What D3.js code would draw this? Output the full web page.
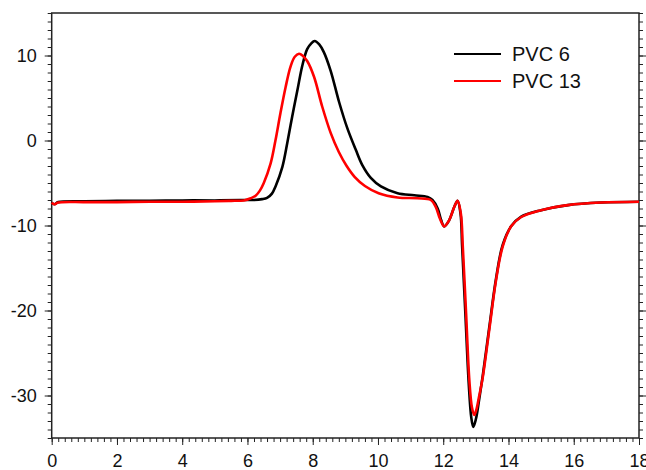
<!DOCTYPE html>
<html>
<head>
<meta charset="utf-8">
<script src="https://cdn.jsdelivr.net/npm/d3@7"></script>
<style>
  html, body { margin: 0; padding: 0; background: #fff; }
  svg { display: block; font-family: "Liberation Sans", Arial, Helvetica, sans-serif; }
  .axis path, .axis line { stroke: #222; }
  .axis text { fill: #111; font-size: 18px; }
  .legend text { font-size: 20px; fill: #111; }
</style>
</head>
<body>
<svg id="chart" width="646" height="470"></svg>
<script>
// ------------ DATA -----------------

const pvc6Time = [0, 0.08, 0.2, 1, 2, 3, 4, 5, 5.8, 6.2, 6.45, 6.6, 6.75, 6.86, 7.07, 7.22, 7.37, 7.53, 7.68, 7.83, 7.95, 8.06, 8.2, 8.34, 8.55, 8.81, 9.06, 9.32, 9.52, 9.78, 10.09, 10.6, 11.11, 11.52, 11.67, 11.83, 11.93, 12.03, 12.18, 12.34, 12.44, 12.53, 12.58, 12.68, 12.78, 12.86, 12.92, 13.0, 13.1, 13.21, 13.41, 13.62, 13.82, 14.08, 14.39, 15.0, 15.82, 16.84, 18];
const pvc6Value = [-7.3, -7.5, -7.25, -7.15, -7.1, -7.1, -7.05, -7.05, -7.0, -7.0, -6.9, -6.75, -6.25, -5.4, -3.1, -0.3, 2.8, 5.9, 8.8, 10.75, 11.4, 11.7, 11.3, 10.4, 8.2, 4.5, 1.45, -1.1, -2.9, -4.4, -5.4, -6.2, -6.45, -6.65, -7.0, -8.0, -9.3, -10.1, -9.4, -7.8, -7.1, -8.6, -12.5, -20.5, -28.5, -32.6, -33.7, -32.8, -30.5, -27.7, -22.0, -16.2, -12.3, -10.1, -8.96, -8.2, -7.6, -7.3, -7.2];

const pvc13Time = [0, 0.08, 0.2, 1, 2, 3, 4, 5, 5.5, 5.89, 6.1, 6.25, 6.38, 6.5, 6.71, 6.86, 7.01, 7.17, 7.32, 7.45, 7.58, 7.7, 7.83, 8.04, 8.29, 8.55, 8.8, 9.04, 9.29, 9.6, 10.02, 10.6, 11.21, 11.62, 11.77, 11.9, 12.03, 12.18, 12.34, 12.44, 12.54, 12.6, 12.7, 12.8, 12.88, 12.95, 13.02, 13.1, 13.21, 13.41, 13.62, 13.82, 14.08, 14.39, 15.0, 15.82, 16.84, 18];
const pvc13Value = [-7.3, -7.5, -7.3, -7.25, -7.25, -7.2, -7.2, -7.15, -7.1, -7.05, -6.8, -6.5, -5.9, -5.0, -2.7, 0.05, 3.2, 6.3, 8.7, 9.85, 10.2, 9.95, 9.35, 7.5, 4.0, 0.9, -1.35, -3.0, -4.3, -5.35, -6.2, -6.7, -6.8, -7.0, -7.8, -9.2, -10.1, -9.4, -7.8, -7.1, -8.6, -12.5, -20.3, -28.2, -31.4, -32.3, -31.6, -30.1, -27.9, -22.3, -16.4, -12.5, -10.1, -9.0, -8.2, -7.6, -7.3, -7.2];

const seriesNames = ["PVC 6", "PVC 13"];
const seriesColors = ["#000000", "#ff0000"];

const xMajorTicks = [0, 2, 4, 6, 8, 10, 12, 14, 16, 18];
const yMajorTicks = [-30, -20, -10, 0, 10];

// ------------ SETUP -----------------

const mLeft = 51.7, mRight = 639, mTop = 13, mBottom = 438;

const svg = d3.select("#chart");

const x = d3.scaleLinear().domain([0, 18]).range([mLeft, mRight]);
const y = d3.scaleLinear().domain([-35, 15]).range([mBottom, mTop]);

const xMinor = d3.range(0, 18.001, 0.2);
const yMinor = d3.range(-35, 15.001, 1);

const plainNumber = d => String(d);   // hyphen minus like the original

// ------------ AXES -----------------

// minor ticks first, then majors with labels
svg.append("g").attr("class", "axis")
  .attr("transform", `translate(0,${mBottom})`)
  .call(d3.axisBottom(x).tickValues(xMinor).tickSize(4).tickFormat(""))
  .call(g => g.select(".domain").remove());

svg.append("g").attr("class", "axis")
  .attr("transform", `translate(0,${mBottom})`)
  .call(d3.axisBottom(x).tickValues(xMajorTicks).tickSize(7).tickPadding(9).tickFormat(plainNumber))
  .call(g => g.select(".domain").remove());

svg.append("g").attr("class", "axis")
  .attr("transform", `translate(${mLeft},0)`)
  .call(d3.axisLeft(y).tickValues(yMinor).tickSize(4).tickFormat(""))
  .call(g => g.select(".domain").remove());

svg.append("g").attr("class", "axis")
  .attr("transform", `translate(${mLeft},0)`)
  .call(d3.axisLeft(y).tickValues(yMajorTicks).tickSize(7).tickPadding(8).tickFormat(plainNumber))
  .call(g => g.select(".domain").remove());

svg.append("g").attr("class", "axis")
  .attr("transform", `translate(${mRight},0)`)
  .call(d3.axisRight(y).tickValues(yMinor).tickSize(4).tickFormat(""))
  .call(g => g.select(".domain").remove());

svg.append("g").attr("class", "axis")
  .attr("transform", `translate(${mRight},0)`)
  .call(d3.axisRight(y).tickValues(yMajorTicks).tickSize(7).tickFormat(""))
  .call(g => g.select(".domain").remove());

// frame
svg.append("rect")
  .attr("x", mLeft).attr("y", mTop)
  .attr("width", mRight - mLeft).attr("height", mBottom - mTop)
  .attr("fill", "none").attr("stroke", "#222").attr("stroke-width", 1.5);

// ------------ LINES -----------------

const line = d3.line()
  .x(d => x(d[0]))
  .y(d => y(d[1]))
  .curve(d3.curveCatmullRom.alpha(0.5));

const series = [
  d3.zip(pvc6Time, pvc6Value),
  d3.zip(pvc13Time, pvc13Value),
];

svg.selectAll("path.trace")
  .data(series)
  .enter()
  .append("path")
  .attr("class", "trace")
  .attr("d", line)
  .attr("fill", "none")
  .attr("stroke", (d, i) => seriesColors[i])
  .attr("stroke-width", 2.6)
  .attr("stroke-linejoin", "round");

// ------------ LEGEND -----------------

const legend = svg.append("g").attr("class", "legend");

seriesNames.forEach((name, i) => {
  const ly = 54 + i * 27;
  legend.append("line")
    .attr("x1", 454).attr("x2", 501)
    .attr("y1", ly).attr("y2", ly)
    .attr("stroke", seriesColors[i])
    .attr("stroke-width", 2.2);
  legend.append("text")
    .attr("x", 512).attr("y", ly)
    .attr("dy", "0.35em")
    .text(name);
});
</script>
</body>
</html>
